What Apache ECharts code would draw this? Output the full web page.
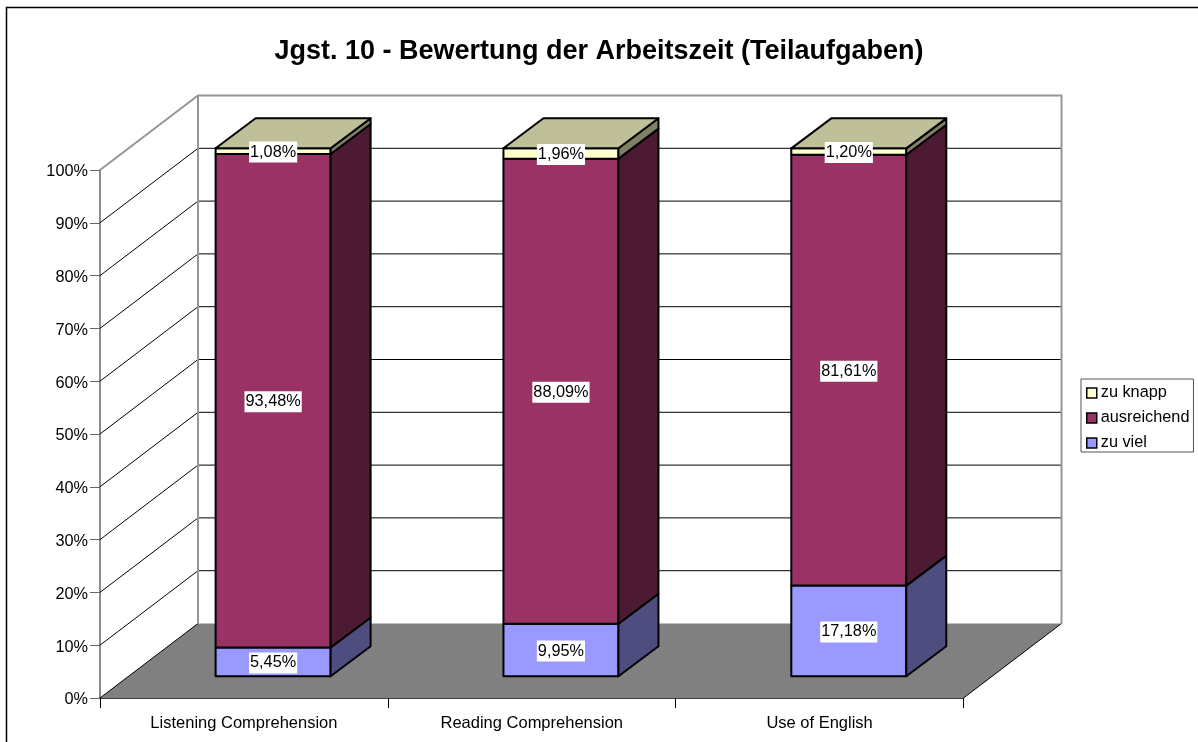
<!DOCTYPE html>
<html>
<head>
<meta charset="utf-8">
<title>Jgst. 10</title>
<script src="https://cdn.jsdelivr.net/npm/echarts@6/dist/echarts.min.js"></script>
<style>
  html, body { margin: 0; padding: 0; background: #fff; overflow: hidden; }
  #main { width: 1198px; height: 742px; }
</style>
</head>
<body>
<div id="main"></div>
<script>
var categories = ['Listening Comprehension', 'Reading Comprehension', 'Use of English'];
var zuViel = [5.45, 9.95, 17.18];
var ausreichend = [93.48, 88.09, 81.61];
var zuKnapp = [1.08, 1.96, 1.20];
var yTicks = [10, 20, 30, 40, 50, 60, 70, 80, 90];

// depth of the fake 3d box, in pixels
var WALL_DX = 98, WALL_DY = -74.5;
var BAR_DX = 29.2, BAR_DY = -21.7;
var SIDE_DX = 40, SIDE_DY = -30;
var BAR_W = 115;
var FONT = '"Liberation Sans", Arial, sans-serif';

function move(p, dx, dy) { return [p[0] + dx, p[1] + dy]; }

// floor, back wall, left wall and their grid lines
function renderWalls(params, api) {
  var band = api.size([1, 0])[0];
  var l0 = move(api.coord([0, 0]), -band / 2, 0);
  var r0 = move(api.coord([categories.length - 1, 0]), band / 2, 0);
  var l100 = move(api.coord([0, 100]), -band / 2, 0);
  var r100 = move(api.coord([categories.length - 1, 100]), band / 2, 0);
  var gray = { stroke: '#969696', lineWidth: 2, fill: null };
  var kids = [];
  kids.push({ type: 'polygon', shape: { points: [l0, r0, move(r0, WALL_DX, WALL_DY), move(l0, WALL_DX, WALL_DY)] },
    style: { fill: '#808080', stroke: null } });
  yTicks.forEach(function (t) {
    var a = move(api.coord([0, t]), -band / 2, 0);
    var b = move(a, WALL_DX, WALL_DY);
    var c = move(api.coord([categories.length - 1, t]), band / 2 + WALL_DX, WALL_DY);
    kids.push({ type: 'polyline', shape: { points: [a, b, c] }, style: { stroke: '#000', lineWidth: 1, fill: null } });
  });
  kids.push({ type: 'polyline', shape: { points: [l0, move(l0, WALL_DX, WALL_DY)] }, style: { stroke: '#000', lineWidth: 1, fill: null } });
  kids.push({ type: 'polyline', shape: { points: [r0, move(r0, WALL_DX, WALL_DY)] }, style: { stroke: '#000', lineWidth: 1, fill: null } });
  kids.push({ type: 'polyline', shape: { points: [l100, move(l100, WALL_DX, WALL_DY), move(r100, WALL_DX, WALL_DY), move(r0, WALL_DX, WALL_DY)] }, style: gray });
  kids.push({ type: 'polyline', shape: { points: [move(l0, WALL_DX, WALL_DY), move(l100, WALL_DX, WALL_DY)] }, style: gray });
  return { type: 'group', children: kids };
}

// one bar segment: front face, side face, and the lid on the top series
function segmentRenderer(front, side, lid) {
  return function (params, api) {
    var i = api.value(0);
    var low = move(api.coord([i, api.value(1)]), BAR_DX, BAR_DY);
    var high = move(api.coord([i, api.value(2)]), BAR_DX, BAR_DY);
    var x0 = low[0] - BAR_W / 2, x1 = low[0] + BAR_W / 2;
    var line = { stroke: '#000', lineWidth: 2, lineJoin: 'round' };
    var kids = [
      { type: 'polygon', shape: { points: [[x0, low[1]], [x1, low[1]], [x1, high[1]], [x0, high[1]]] },
        style: Object.assign({ fill: front }, line) },
      { type: 'polygon', shape: { points: [[x1, low[1]], [x1 + SIDE_DX, low[1] + SIDE_DY], [x1 + SIDE_DX, high[1] + SIDE_DY], [x1, high[1]]] },
        style: Object.assign({ fill: side }, line) }
    ];
    if (lid) {
      kids.push({ type: 'polygon', shape: { points: [[x0, high[1]], [x1, high[1]], [x1 + SIDE_DX, high[1] + SIDE_DY], [x0 + SIDE_DX, high[1] + SIDE_DY]] },
        style: Object.assign({ fill: lid }, line) });
    }
    return { type: 'group', children: kids };
  };
}

// value labels sit above every bar, so they get their own series
function renderLabel(params, api) {
  var p = move(api.coord([api.value(0), api.value(1)]), BAR_DX, BAR_DY);
  var txt = api.value(2).toFixed(2).replace('.', ',') + '%';
  return { type: 'text', z2: 100, style: {
    text: txt, x: p[0], y: p[1] + 1, align: 'center', verticalAlign: 'middle',
    font: '16.3px ' + FONT, fill: '#000', backgroundColor: '#fff', padding: [3, 1, 2, 1]
  } };
}

function stackRows(lowParts, vals) {
  return vals.map(function (v, i) {
    var low = 0;
    lowParts.forEach(function (arr) { low += arr[i]; });
    return [i, low, low + v];
  });
}

var rowsViel = stackRows([], zuViel);
var rowsAus = stackRows([zuViel], ausreichend);
var rowsKnapp = stackRows([zuViel, ausreichend], zuKnapp);
var labelRows = [];
[[rowsViel, zuViel], [rowsAus, ausreichend], [rowsKnapp, zuKnapp]].forEach(function (pair) {
  pair[0].forEach(function (r, i) { labelRows.push([r[0], (r[1] + r[2]) / 2, pair[1][i]]); });
});

var myChart = echarts.init(document.getElementById('main'), null, { renderer: 'canvas' });
myChart.setOption({
  animation: false,
  backgroundColor: '#fff',
  title: {
    text: 'Jgst. 10 - Bewertung der Arbeitszeit (Teilaufgaben)',
    left: 594, top: 33, textAlign: 'center',
    textStyle: { fontFamily: FONT, fontSize: 27, fontWeight: 'bold', color: '#000' }
  },
  legend: {
    orient: 'vertical', left: 1081, top: 379, width: 116,
    data: ['zu knapp', 'ausreichend', 'zu viel'],
    icon: 'rect', itemWidth: 10, itemHeight: 10, itemGap: 9,
    padding: [6, 4, 1, 5],
    borderColor: '#555', borderWidth: 1, backgroundColor: '#fff',
    textStyle: { fontFamily: FONT, fontSize: 16.3, color: '#000', padding: [0, 0, 0, -1] },
    itemStyle: { borderColor: '#000', borderWidth: 1.5 },
    selectedMode: false
  },
  grid: { left: 100, top: 170, width: 863.5, height: 528 },
  xAxis: {
    type: 'category', data: categories,
    axisLine: { lineStyle: { color: '#000', width: 1.5 } },
    axisTick: { show: true, length: 10, lineStyle: { color: '#000' } },
    axisLabel: { fontFamily: FONT, fontSize: 16.5, color: '#000', margin: 17 },
    splitLine: { show: false }
  },
  yAxis: {
    type: 'value', min: 0, max: 100, interval: 10,
    axisLine: { show: true, lineStyle: { color: '#666', width: 1.5 } },
    axisTick: { show: true, length: 10, lineStyle: { color: '#666' } },
    axisLabel: {
      margin: 12, formatter: '{a|{value}%}',
      // the padding nudges the labels down onto their ticks
      rich: { a: { fontFamily: FONT, fontSize: 16.3, color: '#000', padding: [4, 0, 0, 0] } }
    },
    splitLine: { show: false }
  },
  graphic: [{
    type: 'rect', silent: true, z: -1,
    shape: { x: 6.5, y: 7.5, width: 1300, height: 900 },
    style: { fill: null, stroke: '#000', lineWidth: 1.5 }
  }],
  series: [
    { type: 'custom', name: 'walls', silent: true, z: 1, renderItem: renderWalls, data: [[0]], encode: { x: 0 } },
    { type: 'custom', name: 'zu viel', z: 2, itemStyle: { color: '#9999FF' }, renderItem: segmentRenderer('#9999FF', '#4D4D80'),
      data: rowsViel, encode: { x: 0, y: [1, 2] } },
    { type: 'custom', name: 'ausreichend', z: 3, itemStyle: { color: '#993366' }, renderItem: segmentRenderer('#993366', '#4D1A33'),
      data: rowsAus, encode: { x: 0, y: [1, 2] } },
    { type: 'custom', name: 'zu knapp', z: 4, itemStyle: { color: '#FFFFCC' }, renderItem: segmentRenderer('#FFFFCC', '#808066', '#BFBF99'),
      data: rowsKnapp, encode: { x: 0, y: [1, 2] } },
    { type: 'custom', name: 'labels', silent: true, z: 5, renderItem: renderLabel, data: labelRows, encode: { x: 0, y: 1 } }
  ]
});
</script>
</body>
</html>
